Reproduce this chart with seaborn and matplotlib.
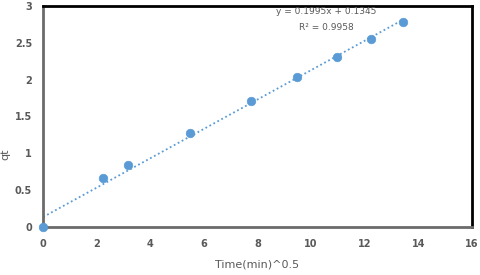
import numpy as np
import pandas as pd
import seaborn as sns
import matplotlib.pyplot as plt

# Data
time_sqrt = [0.0, 2.236, 3.162, 5.477, 7.746, 9.487, 10.954, 12.247, 13.416]
qt = [0.0, 0.66, 0.84, 1.28, 1.71, 2.04, 2.31, 2.55, 2.78]
slope = 0.1995
intercept = 0.1345
r2 = 0.9958

df = pd.DataFrame({'x': time_sqrt, 'qt': qt})
trend = pd.DataFrame({'x': [min(time_sqrt), max(time_sqrt)]})
trend['y'] = slope * trend['x'] + intercept

sns.set_style('white')
blue = '#5B9BD5'
grey = '#595959'

fig = plt.figure(figsize=(4.8, 2.75), dpi=100)
ax = fig.add_axes([0.09, 0.175, 0.893, 0.803])

sns.lineplot(data=trend, x='x', y='y', ax=ax, color=blue, linestyle=(0, (1, 1.5)), linewidth=1.3)
sns.scatterplot(data=df, x='x', y='qt', ax=ax, color=blue, s=38, edgecolor=blue, zorder=3, clip_on=False)

ax.set_xlim(0, 16)
ax.set_ylim(0, 3)
ax.set_xticks(range(0, 17, 2))
ax.set_yticks([0, 0.5, 1, 1.5, 2, 2.5, 3])
ax.set_yticklabels(['0', '0.5', '1', '1.5', '2', '2.5', '3'])
ax.tick_params(axis='x', length=0, labelsize=7, labelcolor=grey, pad=9)
ax.tick_params(axis='y', length=0, labelsize=7, labelcolor=grey, pad=8)
for lab in ax.get_xticklabels() + ax.get_yticklabels():
    lab.set_fontweight('bold')

ax.set_xlabel('Time(min)^0.5', fontsize=8, color=grey)
ax.set_ylabel('qt', fontsize=8, color=grey)
ax.xaxis.set_label_coords(0.5, -0.15)
ax.yaxis.set_label_coords(-0.077, 0.33)

# frame: grey axes on left/bottom, black box on top/right
ax.spines['left'].set_color('#6b6b6b')
ax.spines['bottom'].set_color('#6b6b6b')
ax.spines['top'].set_color('black')
ax.spines['right'].set_color('black')
for s in ax.spines.values():
    s.set_linewidth(2)

ax.text(0.66, 0.995, f'y = {slope}x + {intercept}', transform=ax.transAxes,
        ha='center', va='top', fontsize=6.5, color=grey)
ax.text(0.66, 0.925, f'R² = {r2}', transform=ax.transAxes,
        ha='center', va='top', fontsize=6.5, color=grey)

plt.savefig('out.png', dpi=100)
